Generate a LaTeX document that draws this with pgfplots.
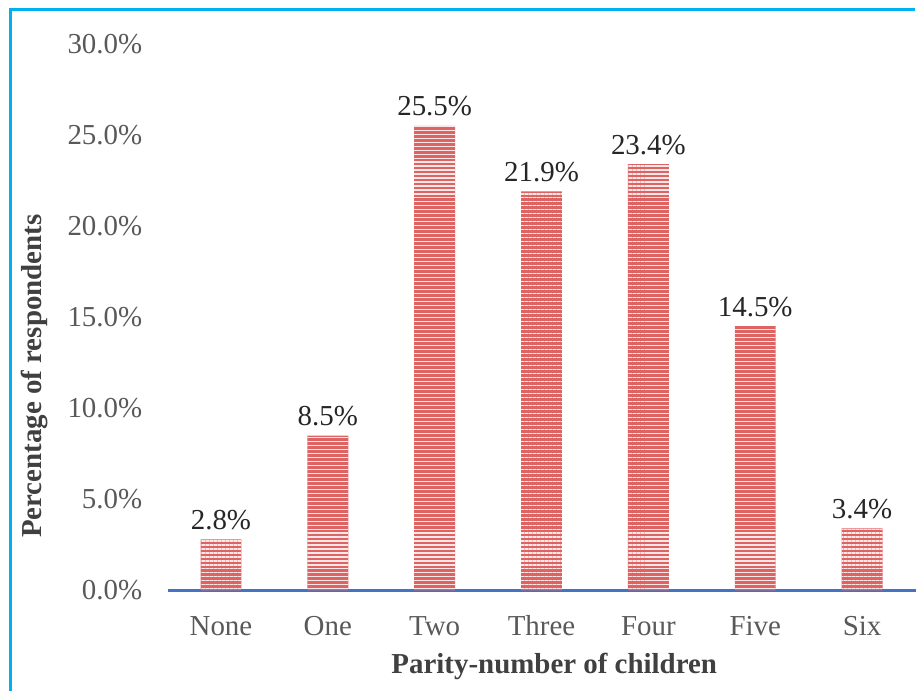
\documentclass[border=0pt]{standalone}
\usepackage{pgfplots}
\pgfplotsset{compat=1.18}
\usepackage{fontspec}
\setmainfont{Liberation Serif}
\usetikzlibrary{patterns.meta}
\definecolor{framecyan}{RGB}{0,176,240}
\definecolor{axisblue}{RGB}{68,114,196}
\definecolor{tickgray}{RGB}{89,89,89}
\definecolor{labelgray}{RGB}{64,64,64}
\definecolor{barred}{RGB}{222,100,100}
\begin{document}
\begin{tikzpicture}
% page size: 917x693 px at 0.5pt per px
\path (0,0) rectangle (458.5pt,-346.5pt);
\draw[framecyan, line width=1.5pt] (5.5pt,-346.5pt) -- (5.5pt,-5pt) -- (458.5pt,-5pt);
\begin{axis}[
  at={(84pt,-296pt)}, anchor=south west,
  scale only axis, width=375pt, height=274pt,
  xmin=-0.5, xmax=6.5, ymin=0, ymax=30,
  axis x line*=bottom, axis y line*=left,
  axis line style={-},
  x axis line style={draw=axisblue, line width=1.5pt},
  y axis line style={draw=none},
  major tick length=0pt,
  tick style={draw=none},
  xtick={0,...,6},
  xticklabels={None,One,Two,Three,Four,Five,Six},
  ytick={0,5,...,30},
  /pgf/number format/assume math mode=true,
  yticklabel={\pgfmathprintnumber[fixed,fixed zerofill,precision=1]{\tick}\%},
  ticklabel style={font=\fontsize{14.5}{17}\selectfont, text=tickgray},
  yticklabel style={anchor=east, inner sep=0pt, xshift=-12.5pt},
  xticklabel style={anchor=base, inner sep=0pt, yshift=-22.5pt},
  xlabel={Parity-number of children},
  ylabel={Percentage of respondents},
  every axis x label/.style={at={(axis description cs:0.517,-0.1387)}, anchor=center,
    font=\fontsize{14.5}{17}\selectfont\bfseries, text=labelgray},
  every axis y label/.style={at={(axis description cs:-0.178,0.392)}, rotate=90, anchor=center,
    font=\fontsize{14.5}{17}\selectfont\bfseries, text=labelgray},
  ybar, bar width=20.5pt,
  nodes near coords={\pgfmathprintnumber[fixed,fixed zerofill,precision=1]{\pgfplotspointmeta}\%},
  every node near coord/.append style={font=\fontsize{14.5}{17}\selectfont, text=black!85, anchor=base, inner sep=0pt, yshift=5pt},
  clip=false,
]
\addplot[draw=none, fill=barred,
  postaction={pattern={Lines[angle=0,distance=2pt,line width=0.55pt]}, pattern color=white!85!barred}]
  coordinates {(0,2.8) (1,8.5) (2,25.5) (3,21.9) (4,23.4) (5,14.5) (6,3.4)};
\end{axis}
\end{tikzpicture}
\end{document}
